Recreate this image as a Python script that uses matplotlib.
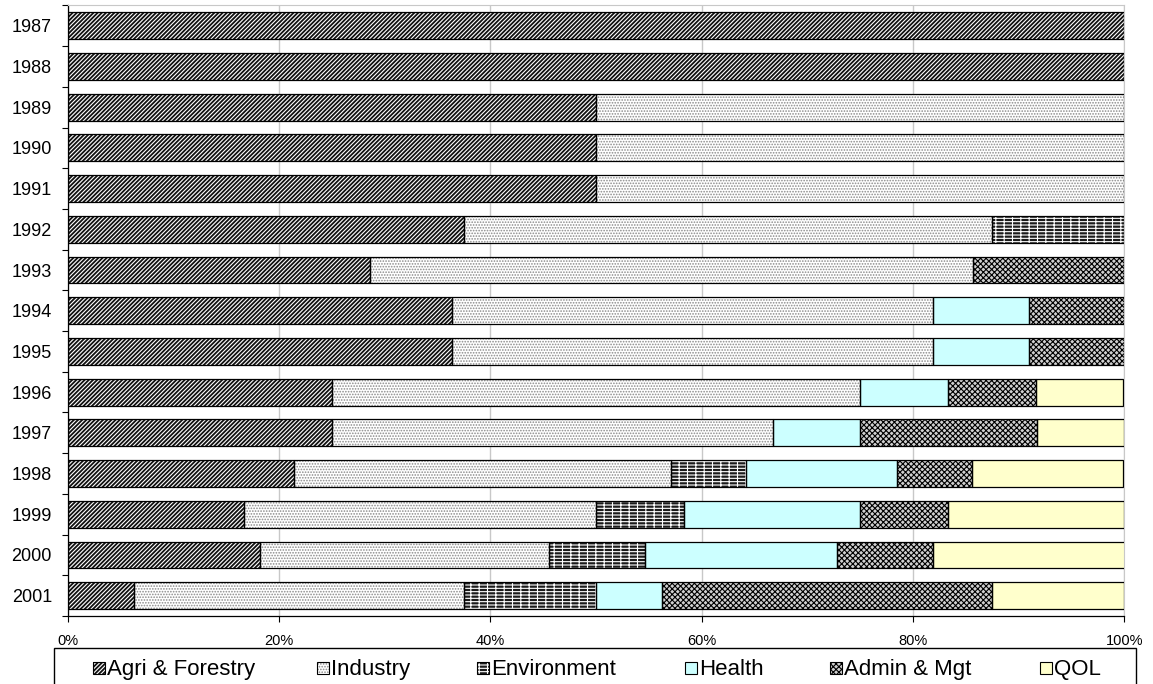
import matplotlib.pyplot as plt
import numpy as np
from matplotlib.patches import Rectangle

plt.rcParams['font.family'] = ['Liberation Sans', 'DejaVu Sans']
plt.rcParams['hatch.linewidth'] = 0.8

years = ['1987', '1988', '1989', '1990', '1991', '1992', '1993', '1994',
         '1995', '1996', '1997', '1998', '1999', '2000', '2001']

# share of projects per sector, percent
agri = [100, 100, 50, 50, 50, 37.5, 28.6, 36.4, 36.4, 25, 25, 21.4, 16.7, 18.2, 6.25]
industry = [0, 0, 50, 50, 50, 50, 57.1, 45.5, 45.5, 50, 41.7, 35.7, 33.3, 27.3, 31.25]
environment = [0, 0, 0, 0, 0, 12.5, 0, 0, 0, 0, 0, 7.1, 8.3, 9.1, 12.5]
health = [0, 0, 0, 0, 0, 0, 0, 9.1, 9.1, 8.3, 8.3, 14.3, 16.7, 18.2, 6.25]
admin = [0, 0, 0, 0, 0, 0, 14.3, 9.1, 9.1, 8.3, 16.7, 7.1, 8.3, 9.1, 31.25]
qol = [0, 0, 0, 0, 0, 0, 0, 0, 0, 8.3, 8.3, 14.3, 16.7, 18.2, 12.5]

sectors = ['Agri & Forestry', 'Industry', 'Environment', 'Health', 'Admin & Mgt', 'QOL']
series = [agri, industry, environment, health, admin, qol]

# (face colour, hatch, hatch colour) per sector
styles = [
    ('#111111', '////////', 'white'),
    ('white', '......', '#8a8a8a'),
    ('#1a1a1a', '-----||', 'white'),
    ('#CCFFFF', '', '#CCFFFF'),
    ('#d0d0d0', 'xxxxxx', 'black'),
    ('#FFFFCC', '', '#FFFFCC'),
]

W, H = 1153, 684
fig = plt.figure(figsize=(W / 100, H / 100), dpi=100)
ax = fig.add_axes([0.0589, 0.0994, 0.9162, 0.8926])

y = np.arange(len(years))
left = np.zeros(len(years))
for name, vals, (face, hatch, hcol) in zip(sectors, series, styles):
    vals = np.array(vals, dtype=float)
    keep = vals > 0
    # fill + hatch layer, then black outline on top
    ax.barh(y[keep], vals[keep], left=left[keep], height=0.66, color=face,
            hatch=hatch, edgecolor=hcol, linewidth=0, zorder=2)
    ax.barh(y[keep], vals[keep], left=left[keep], height=0.66, facecolor='none',
            edgecolor='black', linewidth=0.9, zorder=3)
    left += vals

ax.set_xlim(0, 100)
ax.set_ylim(len(years) - 0.5, -0.5)
ax.set_xticks(np.arange(0, 101, 20))
ax.set_xticklabels([f'{v}%' for v in range(0, 101, 20)])
ax.set_yticks(y)
ax.set_yticklabels(years)
ax.set_yticks(np.arange(-0.5, len(years), 1), minor=True)
ax.tick_params(axis='y', which='major', length=0, pad=11.5, labelsize=13)
ax.tick_params(axis='y', which='minor', length=4.3, width=0.8, direction='out')
ax.tick_params(axis='x', which='major', length=4.3, width=0.8, pad=9, labelsize=10.5)

ax.grid(axis='x', color='#c8c8c8', linewidth=1, zorder=0)
ax.set_axisbelow(True)
for side in ['top', 'right']:
    ax.spines[side].set_color('#c8c8c8')
for side in ['left', 'bottom']:
    ax.spines[side].set_color('black')
    ax.spines[side].set_linewidth(0.9)

# legend drawn by hand so every label sits on the same baseline
fig.patches.append(Rectangle((54 / W, 1 - 690 / H), 1082 / W, 42 / H, transform=fig.transFigure,
                             facecolor='white', edgecolor='black', linewidth=1))
legend_x = [93, 317, 477, 685, 830, 1040]  # pixel column of each legend key
for x, name, (face, hatch, hcol) in zip(legend_x, sectors, styles):
    box = (x / W, 1 - 674 / H)
    size = (12 / W, 12 / H)
    fig.patches.append(Rectangle(box, *size, transform=fig.transFigure, facecolor=face,
                                 hatch=hatch, edgecolor=hcol, linewidth=0))
    fig.patches.append(Rectangle(box, *size, transform=fig.transFigure, facecolor='none',
                                 edgecolor='black', linewidth=0.8))
    fig.text((x + 14) / W, 1 - 675 / H, name, fontsize=16, va='baseline', ha='left')

fig.savefig('out.png', dpi=100)
